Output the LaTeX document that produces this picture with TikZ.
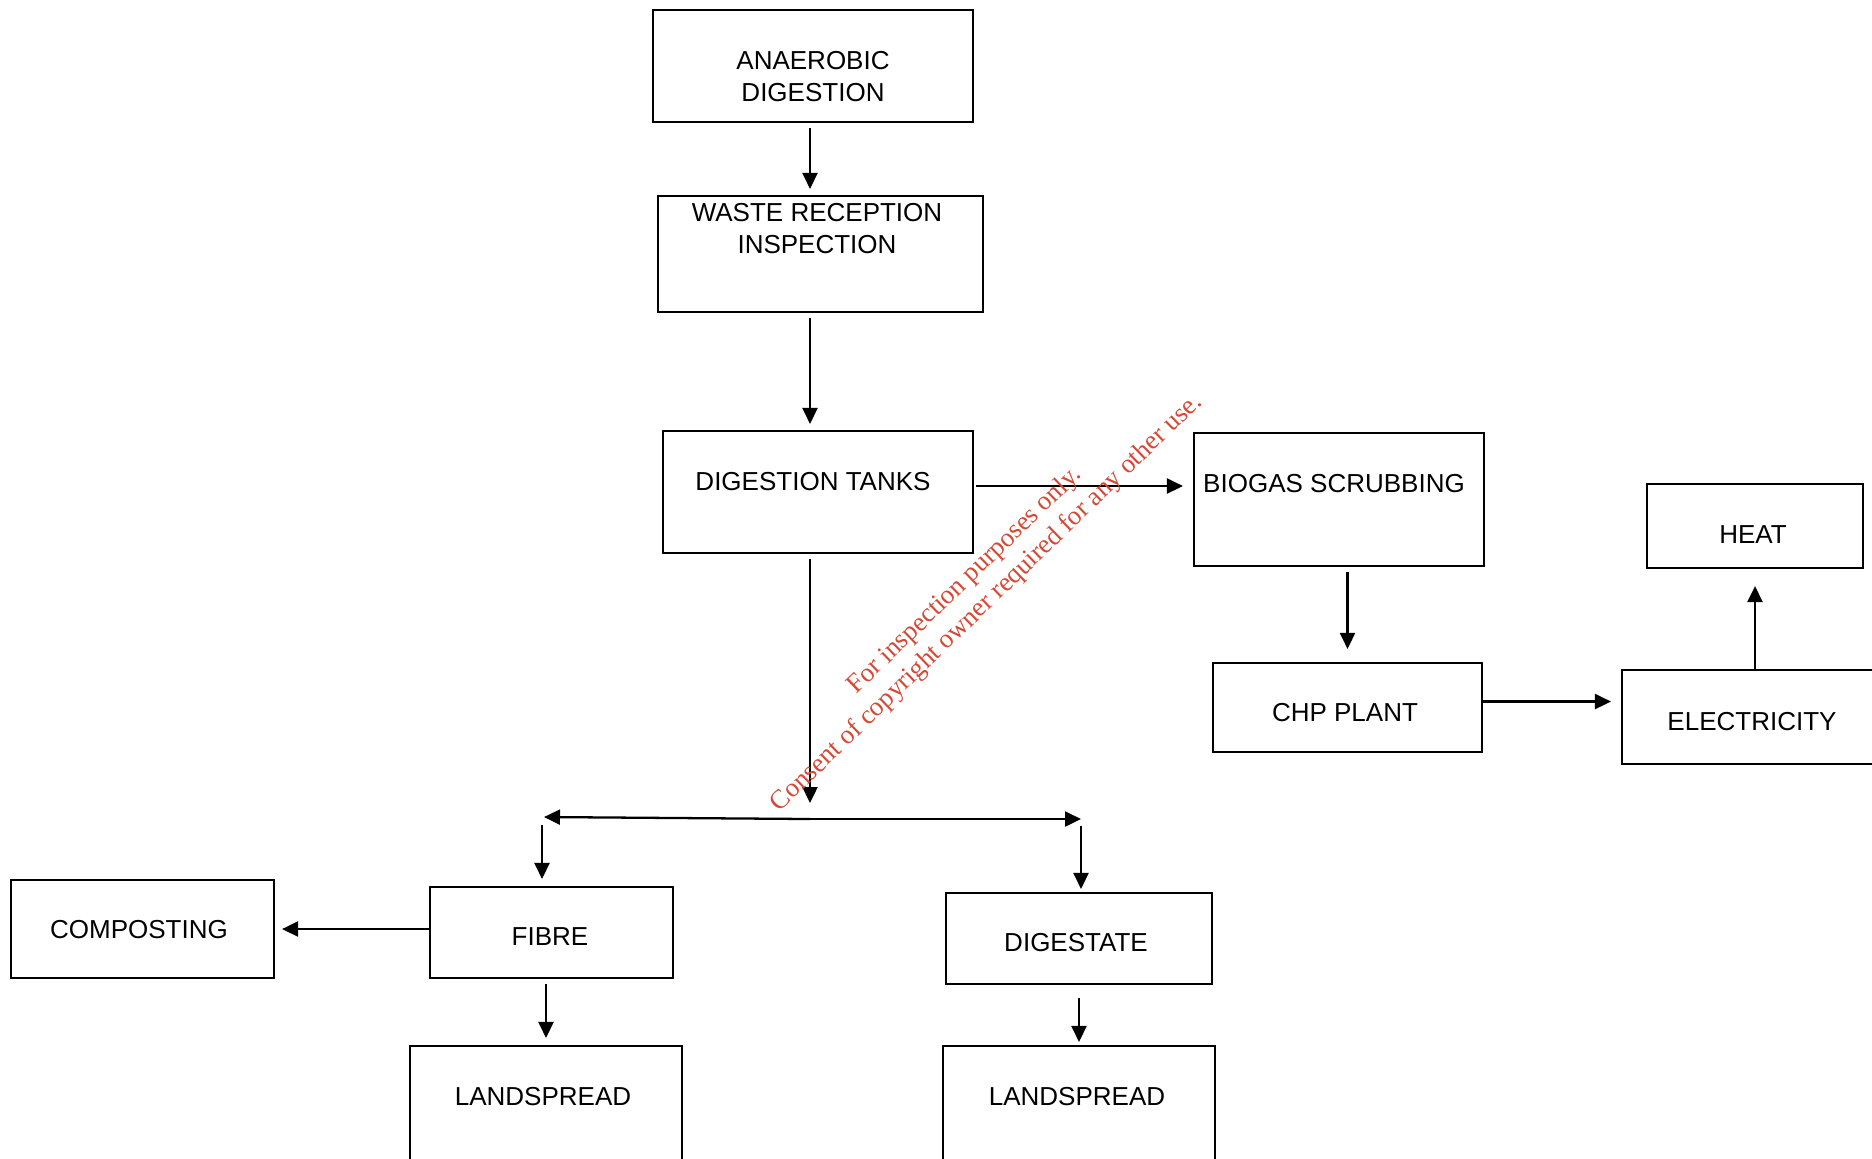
\documentclass[tikz,border=0pt]{standalone}
\usepackage{fontspec}
\setmainfont{Liberation Sans}
\newfontfamily\stampfont{Liberation Serif}
\usepackage{tikz}
\definecolor{Stamp}{HTML}{D24A36}
\usetikzlibrary{arrows.meta}

\begin{document}
\begin{tikzpicture}[
  x=0.1mm, y=-0.1mm, >={Triangle[length=1.6mm, width=1.5mm]},
  font=\fontsize{7.4}{9.1}\selectfont,
  b/.style={draw=black, line width=0.6pt, inner sep=0pt},
  t/.style={align=center, inner sep=0pt},
  ar/.style={->, line width=0.65pt, black, shorten <=0.5mm, shorten >=0.6mm},
  % watermark stamp laid across the middle
  wm/.style={font=\stampfont\fontsize{7.6}{8.9}\selectfont, text=Stamp,
             align=center, inner sep=0pt}]

\clip (0,0) rectangle (1872,1158);

% ================= main line =================
\node[b, minimum width=32mm, minimum height=11.2mm] (ad) at (813,66) {};
\node[t] (adT) at (813,77) {ANAEROBIC\\DIGESTION};

\node[b, minimum width=32.5mm, minimum height=11.6mm] (wr) at (820.5,254) {};
\node[t] (wrT) at (817,229) {WASTE RECEPTION\\INSPECTION};

\node[b, minimum width=31mm, minimum height=12.2mm] (dt) at (818,492) {};
\node[t] (dtT) at (813,482) {DIGESTION TANKS};

\coordinate (split) at (810,819);
\draw[ar] (split |- ad.south) -- (split |- wr.north);
\draw[ar] (split |- wr.south) -- (split |- dt.north);

% ================= gas side =================
\node[b, minimum width=29mm, minimum height=13.3mm] (bs) at (1339,499.5) {};
\node[t] (bsT) at (1334,484) {BIOGAS SCRUBBING};

\node[b, minimum width=26.9mm, minimum height=8.9mm] (chp) at (1347.5,707.5) {};
\node[t] (chpT) at (1345,713) {CHP PLANT};

\node[b, minimum width=26mm, minimum height=9.4mm] (el) at (1752,717) {};
\node[t] (elT) at (1752,722) {ELECTRICITY};

\node[b, minimum width=21.6mm, minimum height=8.4mm] (heat) at (1755,526) {};
\node[t] (heatT) at (1753,535) {HEAT};

\draw[ar, shorten <=0.2mm, shorten >=1mm]
  ([yshift=0.6mm]dt.east) -- ([yshift=0.6mm]dt.east -| bs.west);
\draw[ar, shorten >=1.3mm] (chp.north |- bs.south) -- (chp.north);
\draw[ar, shorten <=0pt, shorten >=1mm]
  ([yshift=0.6mm]chp.east) -- ([yshift=0.6mm]chp.east -| el.west);
\draw[ar, shorten <=0pt, shorten >=1.7mm] (heat.south |- el.north) -- (heat.south);

% ================= solids split =================
\coordinate (fL) at (544,817);
\coordinate (dR) at (1081,819);
\draw[ar, shorten >=1.6mm] (split |- dt.south) -- (split);
\draw[ar, shorten <=0pt, shorten >=0pt] (split) -- (fL);
\draw[ar, shorten <=0pt, shorten >=0pt] (split) -- (dR);

\node[b, minimum width=24.3mm, minimum height=9.1mm] (fib) at (551.5,932.5) {};
\node[t] (fibT) at (550,937) {FIBRE};

\node[b, minimum width=26.3mm, minimum height=9.8mm] (comp) at (142.5,929) {};
\node[t] (compT) at (139,930) {COMPOSTING};

\node[b, minimum width=26.6mm, minimum height=9.1mm] (dig) at (1079,938.5) {};
\node[t] (digT) at (1076,943) {DIGESTATE};

\node[b, minimum width=27.2mm, minimum height=15.4mm] (lsf) at (546,1123) {};
\node[t] (lsfT) at (543,1097) {LANDSPREAD};

\node[b, minimum width=27.2mm, minimum height=15.4mm] (lsd) at (1079,1123) {};
\node[t] (lsdT) at (1077,1097) {LANDSPREAD};

\draw[ar, shorten <=0.8mm, shorten >=0.7mm] ([xshift=-0.2mm]fL) -- ([xshift=-0.2mm]fL |- fib.north);
\draw[ar, shorten <=0.7mm, shorten >=0.3mm] (dR) -- (dR |- dig.north);
\draw[ar, shorten <=0pt, shorten >=0.7mm] (comp.east -| fib.west) -- (comp.east);
\draw[ar, shorten >=0.7mm] (lsf.north |- fib.south) -- (lsf.north);
\draw[ar, shorten <=1.3mm, shorten >=0.3mm] (dig.south) -- (lsd.north);

% ================= stamp =================
\node[wm, rotate=44] (stamp) at (976,592)
  {For inspection purposes only.\\Consent of copyright owner required for any other use.};
\end{tikzpicture}
\end{document}
